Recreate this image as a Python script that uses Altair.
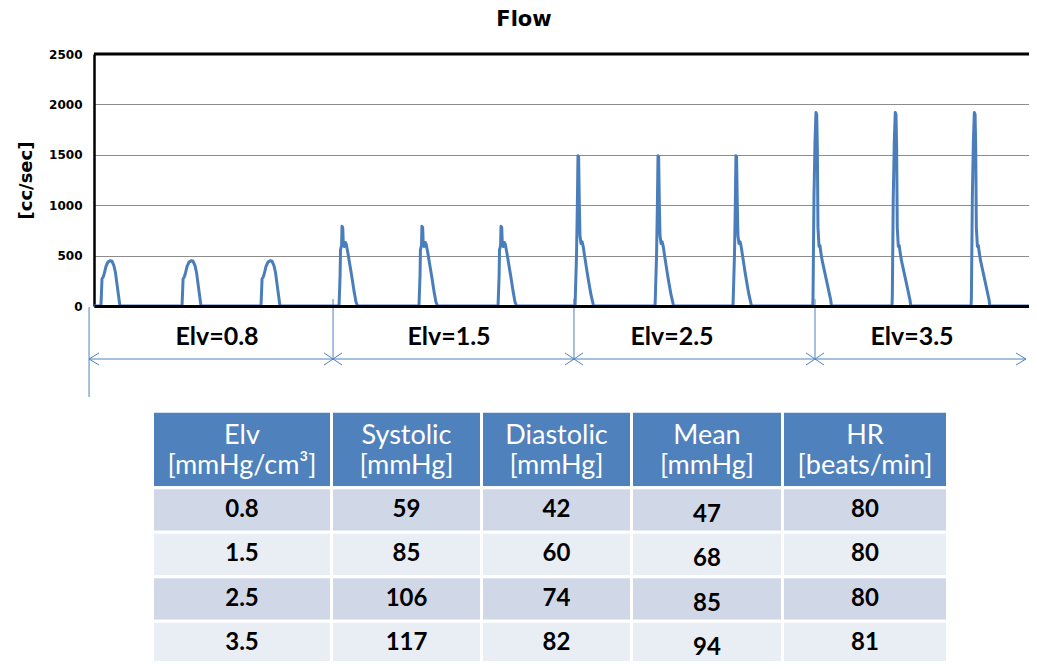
import altair as alt
import pandas as pd

# ------------------------------------------------------------------
# Data
# ------------------------------------------------------------------
# start time [s] of every beat and the Elv group it belongs to
BEAT_START_S = [0.066, 0.836, 1.586, 2.327, 3.086, 3.837, 4.568, 5.328, 6.068, 6.825, 7.578, 8.329]
BEAT_ELV = [0.8, 0.8, 0.8, 1.5, 1.5, 1.5, 2.5, 2.5, 2.5, 3.5, 3.5, 3.5]

# pulse shape per Elv: time offset from beat start [s] and flow [cc/sec]
SHAPE_T_08 = [0.000, 0.010, 0.022, 0.031, 0.047, 0.066, 0.090, 0.104, 0.123, 0.138, 0.152, 0.166, 0.180]
SHAPE_Q_08 = [0, 270, 290, 320, 390, 435, 450, 445, 400, 330, 220, 110, 0]

SHAPE_T_15 = [0.000, 0.010, 0.014, 0.024, 0.028, 0.035, 0.041, 0.050, 0.060, 0.069, 0.085, 0.104, 0.123, 0.142, 0.161, 0.176]
SHAPE_Q_15 = [0, 300, 560, 600, 790, 780, 600, 590, 630, 610, 520, 400, 280, 150, 40, 0]

SHAPE_T_25 = [0.000, 0.003, 0.014, 0.022, 0.028, 0.034, 0.041, 0.047, 0.057, 0.066, 0.076, 0.095, 0.114, 0.133, 0.152, 0.176]
SHAPE_Q_25 = [0, 100, 500, 1000, 1490, 1480, 1000, 700, 620, 640, 600, 470, 340, 220, 110, 0]

SHAPE_T_35 = [0.000, 0.003, 0.012, 0.022, 0.031, 0.038, 0.044, 0.050, 0.060, 0.069, 0.076, 0.090, 0.136, 0.171, 0.178]
SHAPE_Q_35 = [0, 90, 1080, 1640, 1920, 1900, 1570, 780, 590, 600, 540, 450, 230, 60, 0]

X_END_S = 8.879           # right end of the visible time window
Y_TICKS = [0, 500, 1000, 1500, 2000, 2500]

# annotation under the plot
ELV_LABELS = ["Elv=0.8", "Elv=1.5", "Elv=2.5", "Elv=3.5"]
ELV_LABEL_T = [1.168, 3.371, 5.489, 7.768]
BOUNDARY_T = [-0.047, 2.270, 4.558, 6.847]
ARROW_END_T = 8.85

# table
TABLE_HEADERS = ["Elv\n[mmHg/cm³]", "Systolic\n[mmHg]", "Diastolic\n[mmHg]", "Mean\n[mmHg]", "HR\n[beats/min]"]
ELV_VALUES = ["0.8", "1.5", "2.5", "3.5"]
SYSTOLIC = [59, 85, 106, 117]
DIASTOLIC = [42, 60, 74, 82]
MEAN = [47, 68, 85, 94]
HR = [80, 80, 80, 81]

# ------------------------------------------------------------------
# Styles / layout
# ------------------------------------------------------------------
LINE_BLUE = "#4A7EBB"
ANNOT_BLUE = "#4F81BD"
HEADER_BLUE = "#4F81BD"
ROW_DARK = "#D0D8E8"
ROW_LIGHT = "#E9EDF4"
COL_WIDTHS = [179, 150, 150, 151, 165]
HEADER_UNITS = 1.72
ROW_PX = 44.5
TABLE_TOP_PX = 357.2
TABLE_LEFT_PX = 58.5

# ------------------------------------------------------------------
# Build tables
# ------------------------------------------------------------------
shapes = {
    0.8: (SHAPE_T_08, SHAPE_Q_08),
    1.5: (SHAPE_T_15, SHAPE_Q_15),
    2.5: (SHAPE_T_25, SHAPE_Q_25),
    3.5: (SHAPE_T_35, SHAPE_Q_35),
}
rows = [(0.0, 0)]
for start, elv in zip(BEAT_START_S, BEAT_ELV):
    ts, qs = shapes[elv]
    for dt, q in zip(ts, qs):
        rows.append((round(start + dt, 4), q))
rows.append((X_END_S, 0))
flow_df = pd.DataFrame(rows, columns=["t", "q"])

x_scale = alt.Scale(domain=[0, X_END_S], nice=False, zero=False)
y_scale = alt.Scale(domain=[0, 2500], nice=False, zero=False)

x_enc = alt.X(
    "t:Q", scale=x_scale,
    axis=alt.Axis(labels=False, ticks=False, grid=False, title="",
                  domainColor="black", domainWidth=3, zindex=1),
)
y_enc = alt.Y(
    "q:Q", scale=y_scale,
    axis=alt.Axis(values=Y_TICKS, format="d", grid=True, gridColor="#8c8c8c", gridWidth=1,
                  domainColor="black", domainWidth=2.5, ticks=False, tickSize=0,
                  labelFont="DejaVu Sans", labelFontWeight="bold", labelFontSize=12,
                  labelColor="black", labelPadding=12,
                  title="[cc/sec]", titleFont="DejaVu Sans", titleFontSize=18,
                  titleFontWeight="bold", titleColor="black", titlePadding=13),
)

flow = alt.Chart(flow_df).mark_line(
    color=LINE_BLUE, strokeWidth=3, strokeJoin="round"
).encode(x=x_enc, y=y_enc)

top_rule = alt.Chart(pd.DataFrame({"q": [2500]})).mark_rule(
    color="black", strokeWidth=3
).encode(y=alt.Y("q:Q", scale=y_scale))

title_txt = alt.Chart(pd.DataFrame({"label": ["Flow"]})).mark_text(
    font="DejaVu Sans", fontWeight="bold", fontSize=21, color="black"
).encode(text="label:N", x=alt.value(430), y=alt.value(-34))

bdf = pd.DataFrame({"t": BOUNDARY_T})
v_first = alt.Chart(bdf.iloc[:1]).mark_rule(color=ANNOT_BLUE, strokeWidth=1).encode(
    x=alt.X("t:Q", scale=x_scale), y=alt.value(253), y2=alt.value(343))
v_mid = alt.Chart(bdf.iloc[1:]).mark_rule(color=ANNOT_BLUE, strokeWidth=1).encode(
    x=alt.X("t:Q", scale=x_scale), y=alt.value(245), y2=alt.value(306))
h_line = alt.Chart(pd.DataFrame({"t0": [BOUNDARY_T[0]], "t1": [ARROW_END_T]})).mark_rule(
    color=ANNOT_BLUE, strokeWidth=1).encode(
    x=alt.X("t0:Q", scale=x_scale), x2="t1:Q", y=alt.value(305))

arrow_left = alt.Chart(bdf.iloc[:1]).mark_point(
    shape="M1.11,-0.67L0,0L1.11,0.67", size=324, filled=False,
    color=ANNOT_BLUE, strokeWidth=1, opacity=1).encode(
    x=alt.X("t:Q", scale=x_scale), y=alt.value(305))
arrow_x = alt.Chart(bdf.iloc[1:]).mark_point(
    shape="M-1,-0.67L1,0.67M-1,0.67L1,-0.67", size=324, filled=False,
    color=ANNOT_BLUE, strokeWidth=1, opacity=1).encode(
    x=alt.X("t:Q", scale=x_scale), y=alt.value(305))
arrow_right = alt.Chart(pd.DataFrame({"t": [ARROW_END_T]})).mark_point(
    shape="M-1.11,-0.67L0,0L-1.11,0.67", size=324, filled=False,
    color=ANNOT_BLUE, strokeWidth=1, opacity=1).encode(
    x=alt.X("t:Q", scale=x_scale), y=alt.value(305))

elv_txt = alt.Chart(pd.DataFrame({"t": ELV_LABEL_T, "label": ELV_LABELS})).mark_text(
    font="Lato", fontWeight="bold", fontSize=25, color="black").encode(
    x=alt.X("t:Q", scale=x_scale), y=alt.value(283), text="label:N")

flow_layer = alt.layer(top_rule, flow, v_first, v_mid, h_line,
                       arrow_left, arrow_x, arrow_right, elv_txt, title_txt)

# ---- table ----
edges = [0]
for w in COL_WIDTHS:
    edges.append(edges[-1] + w)
n_rows = len(ELV_VALUES)
total_units = HEADER_UNITS + n_rows

cells = []
for c in range(5):
    cells.append({"x0": edges[c], "x1": edges[c + 1], "y0": 0, "y1": HEADER_UNITS, "fill": HEADER_BLUE})
    for r in range(n_rows):
        cells.append({"x0": edges[c], "x1": edges[c + 1],
                      "y0": HEADER_UNITS + r, "y1": HEADER_UNITS + r + 1,
                      "fill": ROW_DARK if r % 2 == 0 else ROW_LIGHT})
cells_df = pd.DataFrame(cells)

tx_scale = alt.Scale(domain=[0, edges[-1]], range=[TABLE_LEFT_PX, TABLE_LEFT_PX + edges[-1]],
                     nice=False, zero=False)
ty_scale = alt.Scale(domain=[0, total_units],
                     range=[TABLE_TOP_PX, TABLE_TOP_PX + total_units * ROW_PX],
                     nice=False, zero=False)

rects = alt.Chart(cells_df).mark_rect(stroke="white", strokeWidth=3).encode(
    x=alt.X("x0:Q", scale=tx_scale, axis=None), x2="x1:Q",
    y=alt.Y("y0:Q", scale=ty_scale, axis=None), y2="y1:Q",
    color=alt.Color("fill:N", scale=None),
)

centers = [(edges[c] + edges[c + 1]) / 2 for c in range(5)]
head_df = pd.DataFrame({"xc": centers, "yc": [HEADER_UNITS / 2] * 5, "label": TABLE_HEADERS})
head_txt = alt.Chart(head_df).mark_text(
    font="Lato", fontSize=27, color="white", lineBreak="\n", lineHeight=30, dy=-13).encode(
    x=alt.X("xc:Q", scale=tx_scale, axis=None),
    y=alt.Y("yc:Q", scale=ty_scale, axis=None), text="label:N")

columns = [ELV_VALUES, SYSTOLIC, DIASTOLIC, MEAN, HR]
body = []
for c, vals in enumerate(columns):
    for r, v in enumerate(vals):
        body.append({"xc": centers[c], "yc": HEADER_UNITS + r + 0.5, "label": str(v), "col": c})
body_df = pd.DataFrame(body)

body_txt = alt.Chart(body_df[body_df["col"] != 3]).mark_text(
    font="Lato", fontWeight="bold", fontSize=24, color="black", dy=0).encode(
    x=alt.X("xc:Q", scale=tx_scale, axis=None),
    y=alt.Y("yc:Q", scale=ty_scale, axis=None), text="label:N")
mean_txt = alt.Chart(body_df[body_df["col"] == 3]).mark_text(
    font="Lato", fontWeight="bold", fontSize=24, color="black", dy=5).encode(
    x=alt.X("xc:Q", scale=tx_scale, axis=None),
    y=alt.Y("yc:Q", scale=ty_scale, axis=None), text="label:N")

table_layer = alt.layer(rects, head_txt, body_txt, mean_txt)

chart = alt.layer(flow_layer, table_layer).resolve_scale(
    x="independent", y="independent"
).properties(
    width=935, height=252,
    autosize=alt.AutoSizeParams(type="none"),
    padding={"left": 86, "top": 46, "right": 0, "bottom": 355},
    background="white",
).configure_view(strokeWidth=0)

chart.save("out.html", embed_options={"renderer": "svg", "actions": False})
